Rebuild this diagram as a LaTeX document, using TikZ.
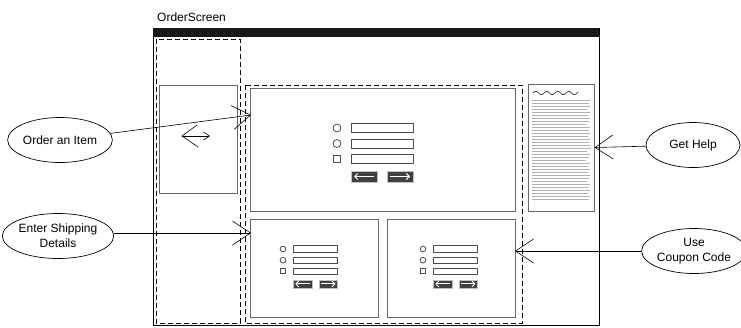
\documentclass[tikz,border=0pt]{standalone}
\usepackage{fontspec}
\setmainfont{Liberation Sans}
\usetikzlibrary{shapes.geometric,arrows.meta}

\tikzset{
  usecase/.style={draw, ellipse, line width=0.7pt, minimum width=100pt,
    minimum height=45pt, inner sep=0pt, align=center,
    font=\fontsize{12}{15}\selectfont},
  link/.style={line width=0.6pt, -{Straight Barb[length=18pt,width=24pt,line width=0.6pt]}},
  region/.style={draw, dashed, dash pattern=on 5pt off 3pt, line width=0.8pt},
  panel/.style={draw=black!60, line width=1pt},
  field/.style={draw=black!70, line width=0.8pt, fill=white},
  btn/.style={fill=black!75, draw=black!25, line width=0.6pt},
  btnarrow/.style={white, line width=0.9pt, -{Straight Barb[length=3pt,width=6pt]}},
  textline/.style={draw=black!30, line width=0.5pt},
}

% one input form: two radio rows, one check row, back/next buttons
\newcommand{\orderform}[3]{%
  \begin{scope}[shift={(#1,#2)}, scale=#3]
    \draw[field] (0,0) circle[radius=4];
    \draw[field] (0,15.5) circle[radius=4];
    \draw[field] (-3.5,27.5) rectangle (3.5,34.5);
    \foreach \r in {0,15.5,31} {
      \draw[field] (14,\r-4.5) rectangle (76,\r+4.5);
    }
    \draw[btn] (14,43) rectangle (40,54);
    \draw[btn] (50,43) rectangle (76,54);
    \draw[btnarrow] (37,48.5) -- (17,48.5);
    \draw[btnarrow] (53,48.5) -- (73,48.5);
  \end{scope}}

\begin{document}
\begin{tikzpicture}[x=1pt, y=-1pt]
  \useasboundingbox (0,0) rectangle (741,327);

  % window with title bar
  \node[anchor=west, font=\fontsize{12}{14}\selectfont, inner sep=0pt] (title) at (157,17) {OrderScreen};
  \draw[line width=0.8pt] (153,28) rectangle (599,325.5);
  \fill[black!90] (153,28) rectangle (599,36.5);

  % navigation column
  \draw[region] (156,39) rectangle (240,323);
  \draw[panel] (159,85) rectangle (237,193);
  \draw[line width=0.6pt] (197,125) -- (182,136) -- (198,147);
  \draw[line width=0.6pt, -{Straight Barb[length=6pt,width=8pt]}] (182,136) -- (210,136);

  % content area with three forms
  \draw[region] (245,85) rectangle (522,323);
  \draw[panel] (250,88) rectangle (515,211);
  \draw[panel] (250,219) rectangle (378,317);
  \draw[panel] (387,219) rectangle (515,317);
  \orderform{337}{128}{1}
  \orderform{283}{249}{0.72}
  \orderform{423}{249}{0.72}

  % help document
  \node[panel, minimum width=66pt, minimum height=127pt, inner sep=0pt] (doc) at (561,147.5) {};
  \draw[line width=0.7pt, black!80] plot[domain=0:45, samples=80]
    ({533+\x}, {93-1.6*sin(\x*360/11)});
  \foreach \y/\e [count=\i] in {100/590,103/589,106/590,109/587,112/590,115/588,118/590,
      121/589,124/586,127/590,130/589,133/590,136/588,139/590,142/589,145/590,
      148/591,151/587,154/590,157/589,160/586,163/590,166/589,169/590,172/588,
      175/590,178/589,181/587,184/590,187/589,190/590,193/588,196/590,199/589} {
    \draw[textline] (532,\y) -- (\e,\y);
  }

  % use cases
  \node[usecase] (order) at (60,140) {Order an Item};
  \node[usecase, minimum width=101pt] (ship) at (58,236) {Enter Shipping\\Details};
  \node[usecase, minimum width=94pt] (help) at (693,145) {Get Help};
  \node[usecase, minimum width=94pt] (coupon) at (694,251) {Use\\Coupon Code};

  \coordinate (orderTip) at (251,115);
  \coordinate (shipTip) at (251,233);
  \coordinate (couponTip) at (515,251);

  \draw[link] (order) -- (orderTip);
  \draw[link] (ship.east |- shipTip) -- (shipTip);
  \draw[link] (help) -- (doc.east);
  \draw[link] (coupon.west |- couponTip) -- (couponTip);
\end{tikzpicture}
\end{document}
